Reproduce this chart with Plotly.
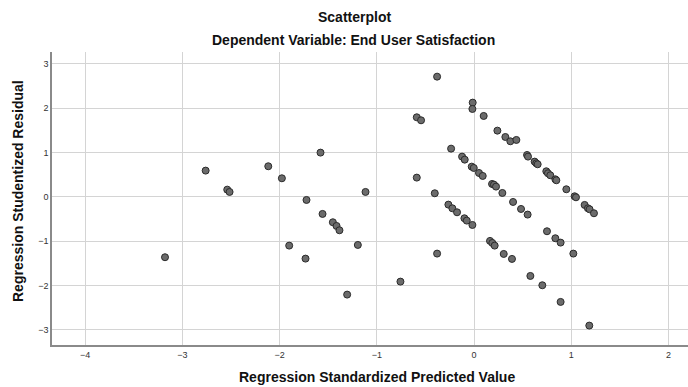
import plotly.graph_objects as go

predicted = [
    -3.178, -2.760, -2.538, -2.514, -2.116, -1.976, -1.579, -1.723, -1.558, -1.452,
    -1.414, -1.384, -1.901, -1.733, -1.195, -1.305,
    -0.380, -0.014, -0.017, -0.589, -0.545, 0.099, 0.240, 0.322, 0.373, 0.435,
    -0.236, -0.123, -0.096, -0.024, -0.003, 0.051, 0.089, 0.185, 0.205, 0.226, 0.291,
    0.545, 0.555, 0.623, 0.640, 0.654, 0.743, 0.760, 0.784, 0.836, 0.846, 0.949,
    1.034, 1.048, -0.589, -1.116, -0.404,
    0.401, 0.483, 0.551, -0.264, -0.223, -0.175, -0.099, -0.075, -0.017,
    1.137, 1.171, 1.188, 1.233, -0.380, -0.757, 0.164, 0.188, 0.212, 0.305, 0.390,
    0.750, 0.836, 0.890, 1.021, 0.579, 0.702, 0.890, 1.185,
]
residual = [
    -1.360, 0.594, 0.165, 0.113, 0.692, 0.421, 1.000, -0.068, -0.383, -0.571,
    -0.654, -0.752, -1.098, -1.391, -1.083, -2.203,
    2.714, 2.128, 1.985, 1.797, 1.729, 1.827, 1.496, 1.353, 1.256, 1.286,
    1.090, 0.910, 0.842, 0.684, 0.654, 0.541, 0.474, 0.293, 0.278, 0.233, 0.090,
    0.947, 0.910, 0.797, 0.759, 0.737, 0.579, 0.534, 0.489, 0.398, 0.376, 0.173,
    0.015, -0.008, 0.436, 0.113, 0.083,
    -0.113, -0.271, -0.398, -0.173, -0.256, -0.346, -0.481, -0.534, -0.632,
    -0.180, -0.256, -0.278, -0.368, -1.278, -1.910, -0.992, -1.038, -1.098, -1.286, -1.398,
    -0.774, -0.932, -1.030, -1.278, -1.782, -1.992, -2.368, -2.902,
]
x_ticks = [-4, -3, -2, -1, 0, 1, 2]
y_ticks = [-3, -2, -1, 0, 1, 2, 3]

FONT = "Liberation Sans, Arial, sans-serif"
L, R, T, B = 52, 0, 52, 42
W, H = 688, 387
PW, PH = W - L - R, H - T - B

fig = go.Figure(go.Scatter(
    x=predicted, y=residual, mode="markers",
    marker=dict(size=7, color="#6b6b6b", line=dict(color="#2b2b2b", width=1)),
    hoverinfo="x+y",
))

fig.update_layout(
    width=W, height=H,
    margin=dict(l=L, r=R, t=T, b=B, autoexpand=False),
    paper_bgcolor="white", plot_bgcolor="white",
    showlegend=False,
    font=dict(family=FONT, color="#222"),
)

def ann(text, px, py, size=14, angle=0):
    fig.add_annotation(text=text, xref="paper", yref="paper",
                       x=(px - L) / PW, y=(H - B - py) / PH,
                       xanchor="center", yanchor="middle",
                       showarrow=False, textangle=angle,
                       font=dict(size=size, family=FONT, color="#111"))

ann("<b>Scatterplot</b>", 354, 17)
ann("<b>Dependent Variable: End User Satisfaction</b>", 353, 40)
ann("<b>Regression Standardized Predicted Value</b>", 377, 377)
ann("<b>Regression Studentized Residual</b>", 18, 191, angle=-90)

fig.update_xaxes(
    range=[-4.34, 2.20], tickvals=x_ticks, ticktext=[str(v).replace("-", "\u2212") for v in x_ticks],
    showgrid=True, gridcolor="#d4d4d4", gridwidth=1, zeroline=False,
    showline=True, linecolor="#8a8a8a", linewidth=1.5, ticks="", automargin=False,
    tickfont=dict(size=9, color="#333", family=FONT),
)
fig.update_yaxes(
    range=[-3.34, 3.27], tickvals=y_ticks, ticktext=[str(v).replace("-", "\u2212") for v in y_ticks],
    showgrid=True, gridcolor="#d4d4d4", gridwidth=1, zeroline=False,
    showline=True, linecolor="#8a8a8a", linewidth=1.5, ticks="", automargin=False,
    tickfont=dict(size=9, color="#333", family=FONT),
)

fig.write_html("out.html", config={"displayModeBar": False},
               post_script="document.body.style.margin='0';document.body.style.overflow='hidden';")
